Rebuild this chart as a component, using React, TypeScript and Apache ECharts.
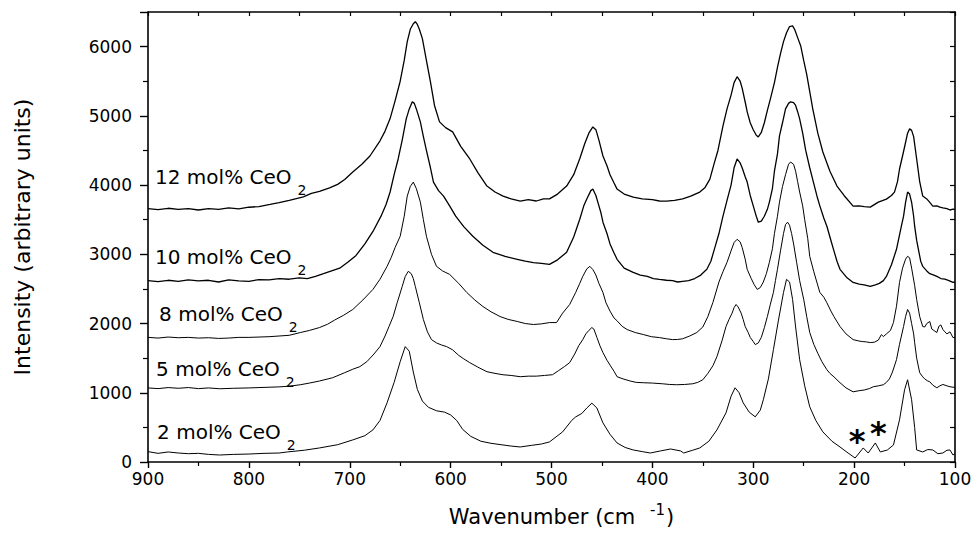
import React, { useEffect, useRef } from "react";
import * as echarts from "echarts";

// ---- spectra (wavenumber cm-1, intensity a.u.) ----
const wn12 = [900, 890, 880, 870, 860, 850, 840, 830, 820, 810, 800, 790, 779, 770, 760, 746, 738, 730, 720, 712, 705, 697, 688, 680, 670, 665, 660, 655, 650, 646, 643, 640, 637, 635, 633, 631, 628, 624, 620, 616, 611, 605, 598, 590, 581, 573, 564, 556, 548, 540, 531, 523, 515, 508, 502, 494, 485, 478, 472, 467, 463, 459, 456, 453, 449, 445, 442, 438, 435, 428, 419, 410, 400, 393, 386, 378, 370, 362, 353, 348, 343, 339, 335, 330, 326, 322, 319, 316, 313, 311, 308, 306, 303, 300, 297, 295, 292, 289, 286, 283, 279, 276, 273, 270, 267, 264, 261, 259, 256, 253, 250, 247, 244, 241, 236, 231, 224, 217, 210, 201, 195, 190, 184, 176, 168, 163, 160, 157, 155, 152, 150, 147, 145, 143, 141, 138, 135, 132, 128, 125, 122, 118, 115, 112, 108, 105, 102, 100];
const int12 = [3660, 3645, 3665, 3650, 3660, 3640, 3660, 3650, 3670, 3655, 3680, 3690, 3720, 3745, 3780, 3830, 3880, 3910, 3960, 4010, 4080, 4190, 4300, 4420, 4640, 4780, 4960, 5220, 5500, 5800, 6072, 6250, 6330, 6360, 6320, 6250, 6116, 5800, 5490, 5150, 4913, 4830, 4768, 4560, 4377, 4180, 3986, 3900, 3841, 3800, 3768, 3790, 3770, 3800, 3800, 3870, 3986, 4150, 4380, 4600, 4750, 4840, 4800, 4650, 4420, 4280, 4150, 4030, 3942, 3870, 3826, 3800, 3790, 3770, 3768, 3780, 3800, 3840, 3899, 3960, 4087, 4300, 4500, 4855, 5100, 5300, 5480, 5565, 5500, 5400, 5200, 5058, 4900, 4800, 4720, 4696, 4760, 4900, 5080, 5246, 5480, 5700, 5900, 6072, 6200, 6290, 6300, 6250, 6130, 6014, 5800, 5600, 5350, 5101, 4750, 4478, 4200, 3986, 3850, 3696, 3700, 3690, 3681, 3754, 3797, 3850, 3899, 4050, 4232, 4420, 4550, 4750, 4812, 4790, 4700, 4377, 4050, 3841, 3800, 3750, 3696, 3700, 3681, 3670, 3660, 3640, 3652, 3650];

const wn10 = [900, 890, 880, 870, 860, 850, 840, 830, 820, 810, 800, 790, 780, 770, 760, 750, 742, 734, 726, 718, 710, 702, 694, 685, 677, 669, 664, 660, 656, 652, 648, 644, 641, 638, 636, 634, 630, 627, 624, 620, 617, 612, 607, 601, 595, 587, 578, 568, 558, 546, 534, 526, 518, 510, 502, 494, 485, 478, 472, 468, 465, 461, 459, 456, 454, 451, 449, 445, 442, 438, 435, 428, 419, 412, 405, 399, 393, 386, 380, 375, 370, 364, 358, 352, 346, 342, 338, 334, 330, 326, 322, 319, 316, 313, 311, 308, 306, 303, 300, 297, 295, 292, 289, 286, 284, 281, 279, 276, 274, 271, 268, 265, 263, 260, 258, 256, 254, 251, 248, 244, 241, 237, 234, 230, 227, 223, 220, 217, 214, 207, 201, 195, 190, 184, 179, 175, 171, 168, 163, 158, 154, 151, 149, 147, 145, 143, 141, 140, 138, 136, 134, 132, 128, 125, 121, 118, 114, 110, 106, 102, 100];
const int10 = [2620, 2605, 2625, 2610, 2630, 2615, 2625, 2600, 2630, 2615, 2610, 2635, 2630, 2650, 2640, 2660, 2650, 2681, 2720, 2760, 2800, 2884, 2980, 3150, 3330, 3551, 3720, 3900, 4150, 4377, 4650, 4957, 5100, 5203, 5180, 5100, 4913, 4700, 4500, 4250, 4043, 3920, 3841, 3700, 3551, 3400, 3261, 3130, 3029, 2970, 2928, 2900, 2880, 2870, 2855, 2920, 3029, 3250, 3507, 3700, 3800, 3920, 3942, 3850, 3750, 3600, 3464, 3300, 3150, 3020, 2928, 2800, 2739, 2700, 2680, 2650, 2638, 2625, 2620, 2600, 2609, 2620, 2650, 2700, 2783, 2900, 3100, 3300, 3551, 3780, 4000, 4250, 4377, 4320, 4250, 4120, 4043, 3850, 3700, 3550, 3464, 3480, 3550, 3650, 3754, 3950, 4200, 4450, 4710, 4900, 5100, 5180, 5203, 5190, 5150, 5060, 4957, 4750, 4500, 4250, 4080, 3850, 3700, 3520, 3406, 3200, 3050, 2900, 2783, 2660, 2594, 2570, 2560, 2536, 2560, 2580, 2620, 2681, 2850, 3072, 3350, 3551, 3750, 3899, 3870, 3750, 3550, 3406, 3200, 3050, 2900, 2826, 2760, 2720, 2700, 2681, 2650, 2640, 2620, 2594, 2600];

const wn8 = [900, 890, 880, 870, 860, 850, 840, 830, 820, 810, 800, 790, 780, 770, 760, 749, 740, 730, 722, 715, 706, 697, 687, 677, 670, 663, 659, 655, 650, 646, 643, 640, 637, 634, 630, 627, 624, 619, 614, 608, 601, 592, 584, 576, 568, 560, 551, 543, 534, 526, 518, 510, 502, 495, 489, 482, 476, 472, 469, 465, 462, 459, 456, 453, 449, 446, 442, 438, 435, 430, 425, 417, 409, 401, 393, 386, 380, 375, 370, 363, 356, 350, 345, 340, 334, 330, 326, 322, 319, 316, 313, 311, 308, 306, 302, 299, 296, 293, 290, 287, 284, 281, 279, 276, 274, 271, 268, 265, 263, 260, 258, 256, 254, 251, 249, 246, 244, 240, 237, 234, 230, 227, 223, 220, 214, 208, 201, 196, 192, 188, 184, 180, 176, 173, 171, 168, 164, 161, 158, 155, 152, 149, 147, 145, 143, 140, 138, 135, 132, 130, 128, 125, 123, 121, 118, 116, 114, 112, 110, 108, 105, 102, 100];
const int8 = [1800, 1790, 1805, 1795, 1800, 1790, 1795, 1785, 1790, 1800, 1800, 1805, 1810, 1820, 1830, 1870, 1900, 1942, 1990, 2050, 2120, 2203, 2340, 2493, 2640, 2826, 2950, 3100, 3261, 3550, 3841, 3980, 4043, 3950, 3754, 3500, 3261, 3000, 2826, 2760, 2710, 2580, 2449, 2340, 2246, 2170, 2101, 2060, 2030, 2000, 1986, 1995, 2014, 2014, 2150, 2275, 2450, 2580, 2681, 2790, 2826, 2780, 2700, 2580, 2449, 2300, 2180, 2080, 2040, 1960, 1913, 1870, 1841, 1810, 1797, 1780, 1768, 1770, 1780, 1820, 1870, 1950, 2100, 2304, 2600, 2750, 2884, 3050, 3170, 3217, 3180, 3100, 2930, 2783, 2650, 2560, 2493, 2520, 2600, 2720, 2884, 3080, 3300, 3550, 3754, 3980, 4150, 4300, 4333, 4300, 4200, 4050, 3900, 3700, 3500, 3230, 2971, 2750, 2600, 2450, 2380, 2300, 2180, 2100, 1957, 1850, 1768, 1750, 1740, 1735, 1725, 1730, 1760, 1840, 1812, 1850, 1900, 2014, 2250, 2594, 2800, 2930, 2971, 2950, 2800, 2550, 2348, 2100, 1957, 1950, 2000, 2029, 1920, 1900, 1870, 1960, 1980, 1913, 1880, 1850, 1880, 1797, 1800];

const wn5 = [900, 890, 880, 870, 860, 850, 840, 829, 815, 800, 790, 780, 770, 760, 749, 740, 730, 717, 705, 697, 690, 683, 676, 670, 665, 661, 657, 653, 648, 645, 642, 639, 637, 635, 631, 627, 623, 619, 614, 609, 604, 598, 592, 587, 581, 573, 564, 556, 548, 540, 531, 523, 515, 507, 499, 493, 487, 482, 477, 473, 469, 466, 463, 460, 458, 455, 452, 449, 445, 442, 438, 435, 429, 422, 416, 409, 400, 390, 383, 376, 368, 360, 355, 350, 345, 340, 336, 331, 327, 324, 321, 319, 317, 315, 312, 310, 308, 305, 303, 300, 298, 295, 292, 289, 286, 283, 280, 278, 276, 273, 270, 268, 266, 264, 262, 260, 257, 254, 250, 247, 244, 240, 236, 232, 227, 224, 220, 214, 208, 201, 195, 190, 185, 181, 176, 171, 168, 165, 162, 158, 155, 151, 149, 147, 145, 143, 141, 140, 138, 135, 132, 130, 127, 125, 122, 118, 115, 112, 108, 105, 102, 100];
const int5 = [1070, 1060, 1075, 1065, 1075, 1060, 1070, 1058, 1065, 1070, 1075, 1080, 1085, 1095, 1116, 1140, 1170, 1217, 1290, 1340, 1377, 1450, 1560, 1667, 1820, 1960, 2101, 2300, 2536, 2680, 2754, 2720, 2650, 2536, 2300, 2058, 1880, 1768, 1720, 1690, 1667, 1620, 1540, 1490, 1435, 1370, 1304, 1280, 1260, 1250, 1232, 1240, 1240, 1250, 1261, 1320, 1380, 1435, 1560, 1680, 1768, 1850, 1900, 1942, 1920, 1800, 1680, 1580, 1470, 1400, 1310, 1232, 1200, 1170, 1150, 1145, 1140, 1130, 1120, 1116, 1120, 1130, 1150, 1188, 1280, 1390, 1522, 1750, 1957, 2060, 2150, 2230, 2275, 2240, 2150, 2060, 1957, 1870, 1800, 1740, 1696, 1720, 1800, 1940, 2101, 2280, 2450, 2620, 2783, 3050, 3300, 3430, 3464, 3420, 3300, 3150, 2884, 2620, 2350, 2100, 1870, 1700, 1570, 1450, 1333, 1280, 1230, 1145, 1070, 1014, 1030, 1040, 1060, 1087, 1100, 1116, 1150, 1200, 1300, 1478, 1700, 1957, 2100, 2203, 2150, 2000, 1850, 1725, 1500, 1290, 1230, 1200, 1170, 1159, 1110, 1072, 1100, 1120, 1100, 1087, 1080, 1080];

const wn2 = [900, 890, 880, 870, 860, 850, 840, 829, 815, 800, 785, 770, 762, 745, 730, 712, 697, 685, 677, 670, 663, 656, 650, 645, 641, 637, 633, 628, 622, 614, 606, 600, 594, 588, 580, 570, 560, 550, 540, 531, 520, 510, 502, 489, 480, 476, 470, 465, 460, 455, 449, 442, 435, 427, 419, 410, 402, 392, 382, 372, 369, 360, 353, 344, 336, 327, 322, 318, 314, 310, 304, 298, 293, 290, 285, 280, 275, 270, 267, 264, 261, 258, 254, 249, 244, 238, 231, 222, 214, 206, 199, 191, 186, 179, 174, 167, 161, 155, 150, 147, 143, 140, 138, 132, 127, 122, 117, 112, 108, 105, 102, 100];
const int2 = [150, 125, 145, 130, 120, 125, 110, 101, 110, 115, 125, 130, 145, 170, 203, 250, 319, 380, 464, 600, 855, 1150, 1450, 1667, 1600, 1300, 1050, 880, 790, 740, 720, 680, 600, 470, 370, 300, 270, 250, 230, 217, 240, 260, 290, 435, 600, 652, 700, 780, 850, 780, 565, 400, 275, 210, 174, 150, 130, 160, 188, 160, 130, 170, 203, 300, 464, 710, 950, 1072, 1000, 855, 720, 652, 750, 899, 1200, 1623, 2050, 2449, 2638, 2600, 2348, 1950, 1478, 1100, 797, 600, 435, 300, 217, 130, 58, 203, 130, 275, 145, 174, 246, 609, 1043, 1188, 899, 500, 174, 145, 180, 174, 120, 130, 170, 174, 101, 120];

// ---- annotations ----
const sampleNames = ["12 mol% CeO", "10 mol% CeO", "8 mol% CeO", "5 mol% CeO", "2 mol% CeO"];
const nameWn = [893, 893, 889, 892, 891];
const nameInt = [4109, 2942, 2130, 1333, 420];
const starWn = [197, 176];
const starInt = [348, 464];

// ---- axes ----
const xTickValues = [900, 800, 700, 600, 500, 400, 300, 200, 100];
const yTickValues = [0, 1000, 2000, 3000, 4000, 5000, 6000];
const yTop = 6500;

const FONT = "DejaVu Sans";

function pairs(w: number[], v: number[]) {
  return w.map((x, i) => [x, v[i]]);
}

const spectra = [
  { wn: wn12, val: int12, width: 1.3 },
  { wn: wn10, val: int10, width: 1.3 },
  { wn: wn8, val: int8, width: 1 },
  { wn: wn5, val: int5, width: 1 },
  { wn: wn2, val: int2, width: 1 },
];

export default function App() {
  const ref = useRef<HTMLDivElement>(null);
  useEffect(() => {
    if (!ref.current) return;
    const chart = echarts.init(ref.current, null, { renderer: "svg" });
    const axisLine = { show: true, onZero: false, lineStyle: { color: "#000", width: 1.6 } };
    const option: any = {
      animation: false,
      backgroundColor: "#fff",
      grid: { left: 148, right: 20, top: 12, bottom: 77, containLabel: false },
      xAxis: [
        {
          type: "value",
          min: xTickValues[xTickValues.length - 1],
          max: xTickValues[0],
          interval: 100,
          inverse: true,
          position: "bottom",
          axisLine,
          axisTick: { show: true, inside: false, length: 6, lineStyle: { color: "#000", width: 1.4 } },
          minorTick: { show: true, splitNumber: 2, length: 4, lineStyle: { color: "#000", width: 1.2 } },
          splitLine: { show: false },
          minorSplitLine: { show: false },
          axisLabel: { color: "#000", fontSize: 17, fontFamily: FONT, margin: 8, formatter: (v: number) => String(v) },
          name: "{t|Wavenumber (cm }{s|-1}{t|)}",
          nameLocation: "middle",
          nameGap: 40,
          nameTextStyle: {
            padding: [0, 0, 0, 20],
            rich: {
              t: { fontSize: 21, fontFamily: FONT, color: "#000", lineHeight: 25, padding: [10, 0, 0, 0], verticalAlign: "bottom" },
              s: { fontSize: 15, fontFamily: FONT, color: "#000", lineHeight: 17, verticalAlign: "top", padding: [0, 1, 0, 8] },
            },
          },
        },
        {
          type: "value",
          min: 100,
          max: 900,
          interval: 50,
          inverse: true,
          position: "top",
          axisLine,
          axisTick: { show: true, inside: true, length: 4, lineStyle: { color: "#000", width: 1.2 } },
          axisLabel: { show: false },
          splitLine: { show: false },
        },
      ],
      yAxis: [
        {
          type: "value",
          min: yTickValues[0],
          max: yTop,
          interval: 1000,
          position: "left",
          axisLine,
          axisTick: { show: true, inside: false, length: 8, lineStyle: { color: "#000", width: 1.4 } },
          minorTick: { show: true, splitNumber: 2, length: 5, lineStyle: { color: "#000", width: 1.2 } },
          splitLine: { show: false },
          minorSplitLine: { show: false },
          axisLabel: {
            color: "#000",
            fontSize: 17,
            fontFamily: FONT,
            margin: 16,
            showMaxLabel: false,
            formatter: (v: number) => (yTickValues.indexOf(v) >= 0 ? String(v) : ""),
          },
          name: "Intensity (arbitrary units)",
          nameLocation: "middle",
          nameGap: 115,
          nameTextStyle: { fontSize: 22, fontFamily: FONT, color: "#000" },
        },
        {
          type: "value",
          min: 0,
          max: yTop,
          interval: 500,
          position: "right",
          axisLine,
          axisTick: { show: true, inside: true, length: 5, lineStyle: { color: "#000", width: 1.2 } },
          axisLabel: { show: false },
          splitLine: { show: false },
        },
      ],
      series: [
        ...spectra.map((s) => ({
          type: "line",
          xAxisIndex: 0,
          yAxisIndex: 0,
          data: pairs(s.wn, s.val),
          showSymbol: false,
          symbol: "none",
          silent: true,
          lineStyle: { color: "#000", width: s.width },
        })),
        {
          type: "scatter",
          xAxisIndex: 0,
          yAxisIndex: 0,
          silent: true,
          symbolSize: 0,
          itemStyle: { color: "#000", opacity: 1 },
          data: sampleNames.map((n, i) => [nameWn[i], nameInt[i], n]),
          label: {
            show: true,
            position: "right",
            distance: 0,
            offset: [0, 0],
            color: "#000",
            opacity: 1,
            textBorderWidth: 0,
            formatter: (p: any) => `{m|${p.data[2]}}{s|2}`,
            rich: {
              m: { fontSize: 20, fontFamily: FONT, color: "#000", lineHeight: 22, verticalAlign: "top" },
              s: { fontSize: 14, fontFamily: FONT, color: "#000", lineHeight: 16, verticalAlign: "top", padding: [16, 0, 0, 6] },
            },
          },
        },
        {
          type: "scatter",
          xAxisIndex: 0,
          yAxisIndex: 0,
          silent: true,
          symbolSize: 0,
          itemStyle: { color: "#000", opacity: 1 },
          data: pairs(starWn, starInt),
          label: {
            show: true,
            position: "inside",
            offset: [0, 3],
            formatter: "*",
            fontSize: 32,
            fontWeight: "bold",
            fontFamily: FONT,
            color: "#000",
            opacity: 1,
            textBorderWidth: 0,
          },
        },
      ],
    };
    chart.setOption(option);
    return () => chart.dispose();
  }, []);
  return (
    <div
      ref={ref}
      style={{ position: "fixed", left: 0, top: 0, width: 975, height: 539, background: "#fff" }}
    />
  );
}
